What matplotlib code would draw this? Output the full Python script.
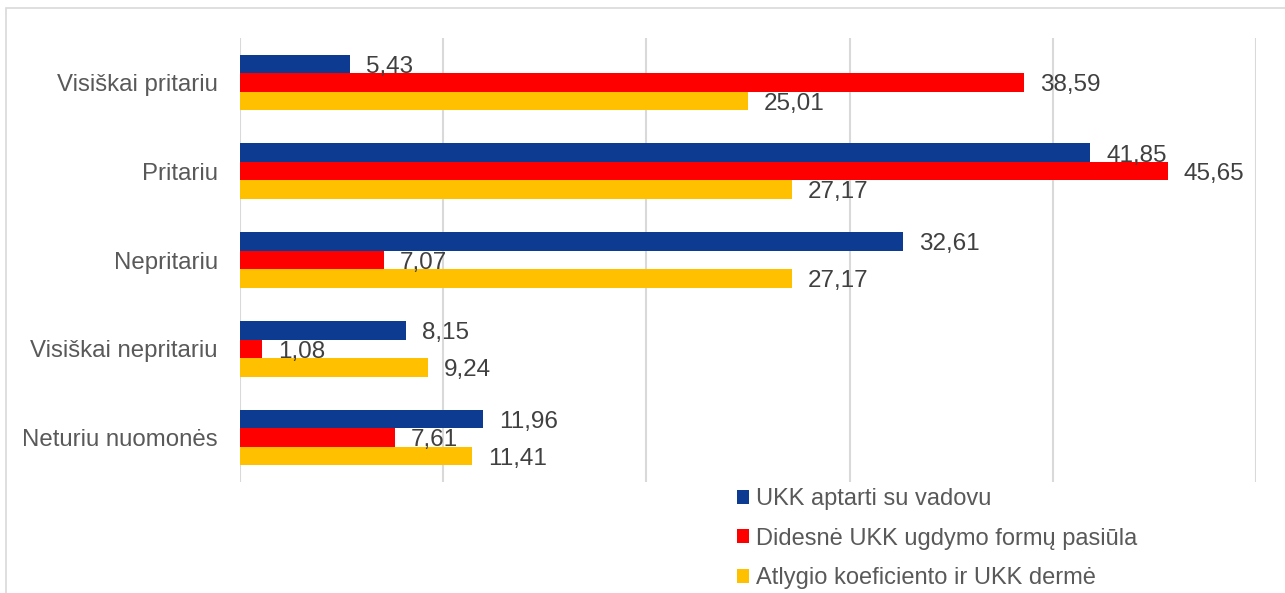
import matplotlib
matplotlib.use("Agg")
import matplotlib.pyplot as plt
import matplotlib.patches as mpatches
import numpy as np

categories = ["Visiškai pritariu", "Pritariu", "Nepritariu", "Visiškai nepritariu", "Neturiu nuomonės"]
series_names = ["UKK aptarti su vadovu", "Didesnė UKK ugdymo formų pasiūla", "Atlygio koeficiento ir UKK dermė"]
ukk_aptarti = [5.43, 41.85, 32.61, 8.15, 11.96]
didesne_pasiula = [38.59, 45.65, 7.07, 1.08, 7.61]
atlygio_derme = [25.01, 27.17, 27.17, 9.24, 11.41]
colors = ["#0D3B91", "#FF0000", "#FFC000"]

plt.rcParams['font.family'] = ['Liberation Sans', 'DejaVu Sans']

fig = plt.figure(figsize=(12.85, 5.93), dpi=100)
ax = fig.add_axes([240/1285, 1-482/593, (1256-240)/1285, (482-38)/593])

# figure border
fig.patches.append(mpatches.Rectangle((6/1285, -0.1), 1.2, 1-8/593+0.1, transform=fig.transFigure,
                                      fill=False, edgecolor="#D9D9D9", linewidth=1.2))

y = np.arange(len(categories))
h = 0.208
data = [ukk_aptarti, didesne_pasiula, atlygio_derme]
handles = []
for i, (vals, name, col) in enumerate(zip(data, series_names, colors)):
    pos = y + (i - 1) * h
    b = ax.barh(pos, vals, height=h, color=col, label=name, zorder=3)
    handles.append(b)
    for p, v in zip(pos, vals):
        ax.annotate(f"{v:.2f}".replace(".", ","), xy=(v, p), xytext=(11.5, -2), textcoords="offset points",
                    ha="left", va="center", fontsize=17.5, color="#404040", zorder=4)

ax.set_xlim(0, 50)
ax.set_ylim(len(categories) - 0.5, -0.5)
ax.set_xticks(np.arange(0, 51, 10))
ax.tick_params(axis="x", length=0, labelbottom=False)
ax.tick_params(axis="y", length=0, pad=16, labelsize=17.3, labelcolor="#595959")
ax.set_yticks(y)
ax.set_yticklabels(categories)
ax.grid(axis="x", color="#D9D9D9", linewidth=1.5, zorder=0)
for s in ax.spines.values():
    s.set_visible(False)

leg = fig.legend(handles=handles, labels=series_names, loc="upper left",
                 bbox_to_anchor=(737/1285, 1-488/593), frameon=False, fontsize=17,
                 handlelength=0.52, handleheight=0.52, handletextpad=0.3, labelspacing=0.75,
                 borderpad=0, borderaxespad=0, labelcolor="#595959")

fig.savefig("out.png", dpi=100)
